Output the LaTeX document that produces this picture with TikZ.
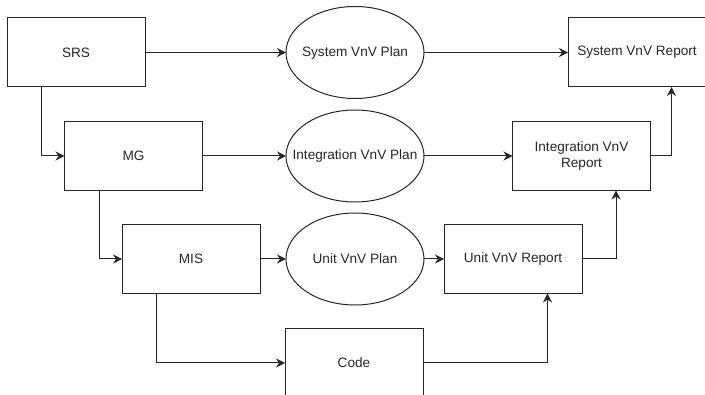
\documentclass[tikz,border=0pt]{standalone}
\usepackage{fontspec}
\setmainfont{Liberation Sans}
\usetikzlibrary{shapes.geometric,arrows.meta,calc}
\begin{document}
\begin{tikzpicture}[x=1pt,y=-1pt,
  every node/.style={font=\fontsize{13.6}{16}\selectfont, text=black!85, inner sep=0pt, outer sep=0pt, line width=1pt},
  boxnode/.style={draw=black!85, rectangle, minimum width=138pt, minimum height=69pt, align=center},
  ovalnode/.style={draw=black!85, ellipse, minimum width=138pt, minimum height=92pt},
  conn/.style={draw=black!85, line width=1pt, -{Stealth[length=9pt,width=9pt,inset=3pt]}}
]
\useasboundingbox (0,0) rectangle (705,395);
\clip (0,0) rectangle (705,395);
\node[boxnode] (srs) at (76,52.5) {SRS};
\node[ovalnode] (sysplan) at (355,52.5) {\makebox[0pt]{System VnV Plan}};
\node[boxnode] (sysrep) at (637,52.5) {System VnV Report};
\node[boxnode] (mg) at (133.5,156) {MG};
\node[ovalnode] (intplan) at (355,156) {\makebox[0pt]{Integration VnV Plan}};
\node[boxnode] (intrep) at (581.5,156) {Integration VnV\\Report};
\node[boxnode] (mis) at (191,259) {MIS};
\node[ovalnode] (unitplan) at (355,259) {\makebox[0pt]{Unit VnV Plan}};
\node[boxnode] (unitrep) at (513,259) {Unit VnV Report};
\node[boxnode] (code) at (354,363) {Code};
\draw[conn] (srs.east) -- (sysplan.west);
\draw[conn] (sysplan.east) -- (sysrep.west);
\draw[conn] ($(srs.south west)!0.25!(srs.south east)$) |- (mg.west);
\draw[conn] (mg.east) -- (intplan.west);
\draw[conn] (intplan.east) -- (intrep.west);
\draw[conn] (intrep.east) -| ($(sysrep.south west)!0.75!(sysrep.south east)$);
\draw[conn] ($(mg.south west)!0.25!(mg.south east)$) |- (mis.west);
\draw[conn] (mis.east) -- (unitplan.west);
\draw[conn] (unitplan.east) -- (unitrep.west);
\draw[conn] (unitrep.east) -| ($(intrep.south west)!0.75!(intrep.south east)$);
\draw[conn] ($(mis.south west)!0.25!(mis.south east)$) |- (code.west);
\draw[conn] (code.east) -| ($(unitrep.south west)!0.75!(unitrep.south east)$);
\end{tikzpicture}
\end{document}
